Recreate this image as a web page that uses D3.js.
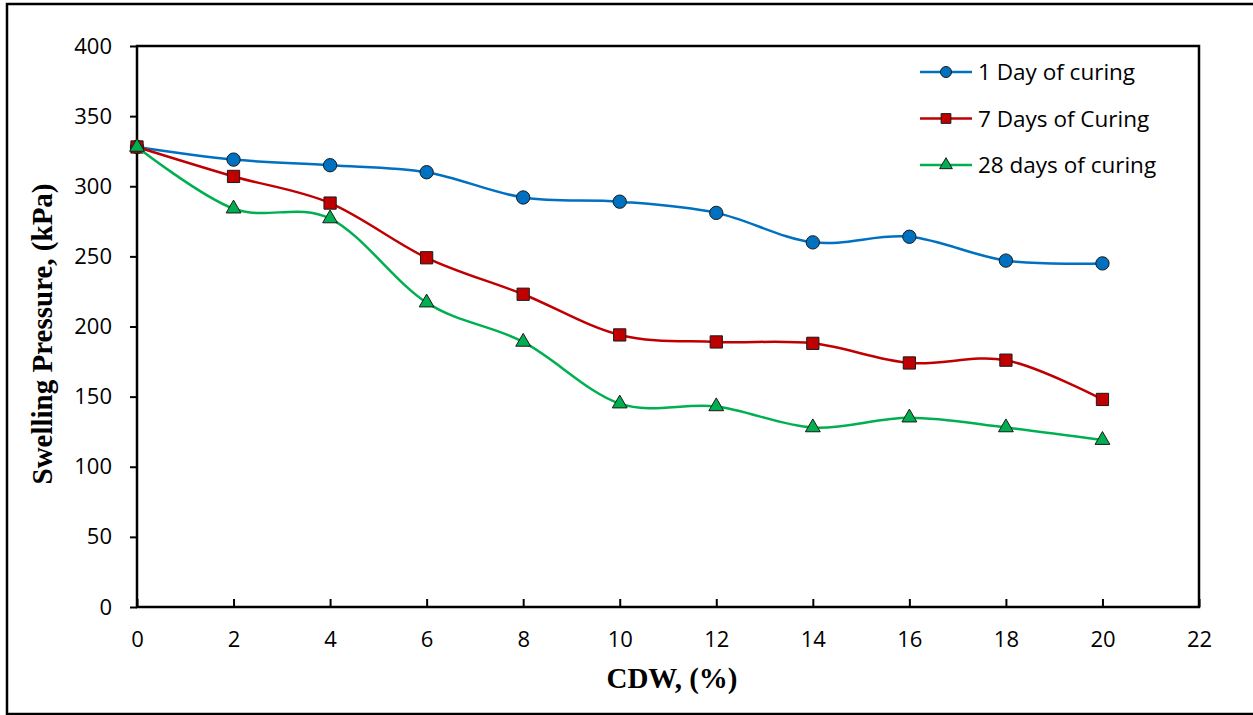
<!DOCTYPE html>
<html>
<head>
<meta charset="utf-8">
<script src="https://cdn.jsdelivr.net/npm/d3@7"></script>
<style>
body { margin: 0; background: #fff; }
svg text { fill: #000; }
</style>
</head>
<body>
<script>
// chart values
var cdw = [0, 2, 4, 6, 8, 10, 12, 14, 16, 18, 20];
var day1 = [328, 319, 315, 310, 292, 289, 281, 260, 264, 247, 245];
var day7 = [328, 307, 288, 249, 223, 194, 189, 188, 174, 176, 148];
var day28 = [328, 284, 277, 217, 189, 145, 143, 128, 135, 128, 119];
var xTicks = [0, 2, 4, 6, 8, 10, 12, 14, 16, 18, 20, 22];
var yTicks = [0, 50, 100, 150, 200, 250, 300, 350, 400];
var seriesNames = ["1 Day of curing", "7 Days of Curing", "28 days of curing"];

var series = [
	{name: seriesNames[0], vals: day1, color: "#0070C0", shape: "circle"},
	{name: seriesNames[1], vals: day7, color: "#C00000", shape: "square"},
	{name: seriesNames[2], vals: day28, color: "#00B050", shape: "triangle"}
];

var W = 1253, H = 715;
var pLeft = 137, pRight = 1199, pTop = 46, pBottom = 607;

var svg = d3.select("body").append("svg")
	.attr("width", W).attr("height", H);

// outer border
svg.append("rect")
	.attr("x", 7).attr("y", 4)
	.attr("width", 1260).attr("height", 710)
	.attr("fill", "none").attr("stroke", "#000").attr("stroke-width", 2.5);

var x = d3.scaleLinear().domain([0, 22]).range([pLeft, pRight]);
var y = d3.scaleLinear().domain([0, 400]).range([pBottom, pTop]);

// plot frame
svg.append("rect")
	.attr("x", pLeft).attr("y", pTop)
	.attr("width", pRight - pLeft).attr("height", pBottom - pTop)
	.attr("fill", "none").attr("stroke", "#000").attr("stroke-width", 2.5);

var tickFont = "'Open Sans', sans-serif";

// y axis (ticks outward)
var yAx = svg.append("g").attr("transform", "translate(" + pLeft + ",0)")
	.call(d3.axisLeft(y).tickValues(yTicks).tickSize(7).tickPadding(18));
yAx.select(".domain").remove();
yAx.selectAll("line").attr("stroke", "#000").attr("stroke-width", 2);
yAx.selectAll("text").style("font-family", tickFont).style("font-size", "22px");

// x axis (ticks inward)
var xAx = svg.append("g").attr("transform", "translate(0," + pBottom + ")")
	.call(d3.axisBottom(x).tickValues(xTicks).tickSize(-8).tickPadding(24));
xAx.select(".domain").remove();
xAx.selectAll("line").attr("stroke", "#000").attr("stroke-width", 2);
xAx.selectAll("text").style("font-family", tickFont).style("font-size", "22px");

// axis titles
svg.append("text")
	.attr("x", 672).attr("y", 688)
	.attr("text-anchor", "middle")
	.style("font-family", "'Liberation Serif', serif")
	.style("font-weight", "bold").style("font-size", "29px")
	.text("CDW, (%)");

svg.append("text")
	.attr("transform", "translate(52,334) rotate(-90)")
	.attr("text-anchor", "middle")
	.style("font-family", "'Liberation Serif', serif")
	.style("font-weight", "bold").style("font-size", "29px")
	.text("Swelling Pressure, (kPa)");

var line = d3.line()
	.x(function(d, i){ return x(cdw[i]); })
	.y(function(d){ return y(d); })
	.curve(d3.curveCatmullRom.alpha(0));

var symType = {circle: d3.symbolCircle, square: d3.symbolSquare, triangle: d3.symbolTriangle};
var symSize = {circle: 140, square: 150, triangle: 95};

series.forEach(function(s){
	svg.append("path")
		.attr("d", line(s.vals))
		.attr("fill", "none")
		.attr("stroke", s.color)
		.attr("stroke-width", 2.5);
	svg.selectAll(null).data(s.vals).enter().append("path")
		.attr("d", d3.symbol().type(symType[s.shape]).size(symSize[s.shape]))
		.attr("transform", function(d, i){ return "translate(" + x(cdw[i]) + "," + y(d) + ")"; })
		.attr("fill", s.color)
		.attr("stroke", "#1a1a1a").attr("stroke-width", 1);
});

// legend
var legend = svg.append("g").attr("transform", "translate(920,72)");
series.forEach(function(s, i){
	var g = legend.append("g").attr("transform", "translate(0," + (i * 46.5) + ")");
	g.append("line").attr("x1", 0).attr("x2", 52).attr("y1", 0).attr("y2", 0)
		.attr("stroke", s.color).attr("stroke-width", 2.5);
	g.append("path")
		.attr("d", d3.symbol().type(symType[s.shape]).size(s.shape == "triangle" ? 70 : 95))
		.attr("transform", "translate(26,0)")
		.attr("fill", s.color).attr("stroke", "#1a1a1a").attr("stroke-width", 1);
	g.append("text")
		.attr("x", 58).attr("y", 8)
		.style("font-family", tickFont).style("font-size", "22.5px")
		.text(s.name);
});
</script>
</body>
</html>
